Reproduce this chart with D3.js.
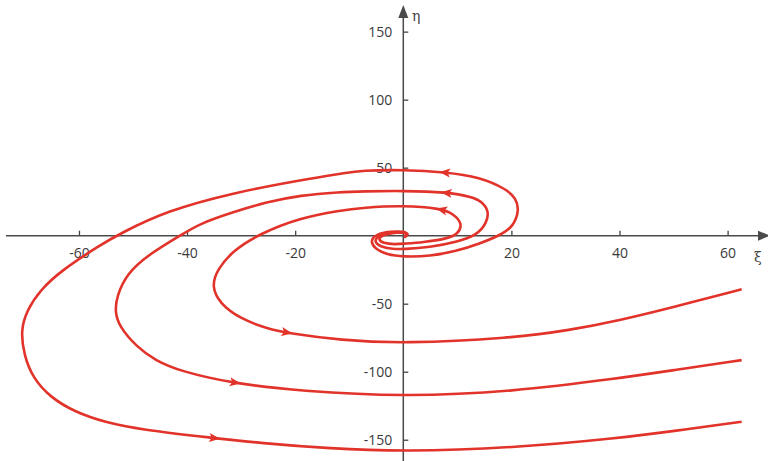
<!DOCTYPE html>
<html>
<head>
<meta charset="utf-8">
<script src="https://cdn.jsdelivr.net/npm/d3@7"></script>
<style>
  html, body { margin: 0; padding: 0; background: #fff; }
  svg { display: block; }
  .tick text { font-family: 'Open Sans', sans-serif; font-size: 14px; fill: #3a3a3a; }
  .tick line { stroke: #444; stroke-width: 1.3; }
  .lbl { font-family: 'DejaVu Serif', serif; font-size: 14px; fill: #444; }
</style>
</head>
<body>
<svg id="chart" width="768" height="461"></svg>
<script>
// ticks
const xTicks = [-60, -40, -20, 20, 40, 60];
const yTicks = [-150, -100, -50, 50, 100, 150];

// trajectories (xi, eta), ordered in direction of motion: from the origin outwards
const inner = [
  [0.31, -0.81], [1.05, 1.03], [0.13, 2.5], [-2.09, 2.13], [-3.94, 0.29], [-4.68, -2.64],
  [-3.76, -5.58], [-1.54, -6.4], [0, -5.9], [3.64, -4.85], [8.03, -2.28], [10.12, 1.03],
  [10.99, 8.88], [9.2, 16.2], [7.1, 19.9], [0, 22.3], [-7.46, 20.6], [-11.71, 18.6],
  [-19.11, 13.1], [-26.51, 1.5], [-31.45, -10.7], [-34.52, -25.4], [-35.45, -37.7], [-33.91, -49.9],
  [-30.21, -60.9], [-25.27, -68.2], [-20.98, -71.9], [-11.71, -76.8], [0, -79.4], [20.1, -75.3],
  [30.8, -69.5], [40.1, -62.2], [50.1, -52.4], [62.6, -39.4]
];
const middle = [
  [0.13, -0.81], [0.87, 1.4], [-0.24, 2.86], [-2.46, 2.5], [-4.68, -0.07], [-5.42, -4.1],
  [-4.31, -8.15], [-1.9, -9.8], [0, -10], [4.94, -8.5], [9.88, -4.6], [13.58, 0.3],
  [15.43, 9.1], [15.86, 18.6], [14.38, 25.3], [12.9, 28.4], [8.03, 32.1], [0, 33],
  [-7.46, 32.6], [-11.71, 32.1], [-19.11, 29.7], [-25.27, 24.7], [-31.45, 17.4], [-37.61, 8.9],
  [-40.7, 1.5], [-46.86, -13.1], [-51.17, -27.8], [-53.03, -45.0], [-53.34, -55.5], [-52.6, -66.5],
  [-49.33, -81.7], [-45.94, -91.5], [-41.32, -99.6], [-31.51, -108.6], [-19.11, -114.2], [0, -118.4],
  [20.1, -114.8], [40.1, -104.7], [50.1, -98.8], [62.6, -91.5]
];
const outer = [
  [0.13, -1.2], [1.05, 1.03], [0.13, 3.2], [-2.46, 3.2], [-5.05, 1.0], [-6.07, -3.4],
  [-5.42, -9.25], [-3.0, -14], [0, -15.5], [4.94, -15.1], [9.75, -11.5], [14.19, -5.8],
  [17.9, 0.3], [20.3, 6.4], [21.46, 18.6], [20.85, 27.5], [19.13, 34.1], [14.19, 43.1],
  [7.71, 46.8], [0, 48.5], [-7.46, 48.0], [-11.71, 45.6], [-19.11, 40.7], [-31.45, 31.6],
  [-43.77, 18.3], [-52.41, 1.5], [-56.11, -7.0], [-63.2, -25.4], [-67.21, -40.1], [-69.62, -54.8],
  [-70.79, -69.5], [-70.17, -87.8], [-68.51, -104.7], [-65.37, -118.6], [-60.74, -129.7], [-55.2, -137.2],
  [-48.71, -142.5], [-35.21, -148.7], [-26.52, -152.4], [-13.58, -156.5], [0, -158.7], [20.1, -156.1],
  [40.1, -148.7], [50.1, -143.6], [62.6, -136.8]
];
const trajectories = [inner, middle, outer];

// where the direction arrows sit, one list per trajectory
const arrowsAt = [
  [[7.1, 19.9], [-21.5, -71.7]],
  [[8.0, 32.1], [-31.1, -109.1]],
  [[7.7, 46.8], [-34.9, -148.3]]
];

const red = '#e2332b';
const svg = d3.select('#chart');

const x = d3.scaleLinear().domain([-73.5, 67.4]).range([6, 767.6]);
const y = d3.scaleLinear().domain([-166, 167]).range([461.5, 8.5]);

// axes (plain hyphen for negatives, as in the original)
const fmt = d => String(d);
const xAxis = d3.axisBottom(x).tickValues(xTicks).tickFormat(fmt)
  .tickSizeInner(-5).tickSizeOuter(0).tickPadding(12);
const yAxis = d3.axisLeft(y).tickValues(yTicks).tickFormat(fmt)
  .tickSizeInner(-5).tickSizeOuter(0).tickPadding(11);

svg.append('g').attr('transform', `translate(0,${y(0)})`).call(xAxis)
  .call(g => g.select('.domain').remove());
svg.append('g').attr('transform', `translate(${x(0)},0)`).call(yAxis)
  .call(g => g.select('.domain').remove());

const axisCol = '#4a4a4a';
svg.append('line')
  .attr('x1', 6).attr('x2', 760).attr('y1', y(0)).attr('y2', y(0))
  .attr('stroke', axisCol).attr('stroke-width', 1.5);
svg.append('line')
  .attr('x1', x(0)).attr('x2', x(0)).attr('y1', 461).attr('y2', 16)
  .attr('stroke', axisCol).attr('stroke-width', 1.5);
// axis arrowheads
svg.append('path')
  .attr('d', `M${770},${y(0)} L${758},${y(0) - 5} L${758},${y(0) + 5} Z`)
  .attr('fill', axisCol);
svg.append('path')
  .attr('d', `M${x(0)},${5} L${x(0) - 5},${18} L${x(0) + 5},${18} Z`)
  .attr('fill', axisCol);

svg.append('text').attr('class', 'lbl').attr('x', 754).attr('y', 262).text('ξ');
svg.append('text').attr('class', 'lbl').attr('x', 412).attr('y', 21).text('η');

// trajectories
const line = d3.line()
  .x(d => x(d[0]))
  .y(d => y(d[1]))
  .curve(d3.curveBasis);

const paths = svg.append('g').selectAll('path')
  .data(trajectories)
  .join('path')
  .attr('d', line)
  .attr('fill', 'none')
  .attr('stroke', red)
  .attr('stroke-width', 2.6)
  .attr('stroke-linejoin', 'round');

// arrows along each trajectory, oriented with the direction of motion
paths.each(function (d, i) {
  const node = this;
  const total = node.getTotalLength();
  arrowsAt[i].forEach(a => {
    const tx = x(a[0]), ty = y(a[1]);
    let best = 0, bestD = Infinity;
    for (let L = 0; L <= total; L += 1) {
      const p = node.getPointAtLength(L);
      const dd = (p.x - tx) ** 2 + (p.y - ty) ** 2;
      if (dd < bestD) { bestD = dd; best = L; }
    }
    const p0 = node.getPointAtLength(Math.max(0, best - 3));
    const p1 = node.getPointAtLength(Math.min(total, best + 3));
    const c = node.getPointAtLength(best);
    const ang = Math.atan2(p1.y - p0.y, p1.x - p0.x) * 180 / Math.PI;
    svg.append('path')
      .attr('d', 'M5.5,0 L-5.5,-4.5 L-3,0 L-5.5,4.5 Z')
      .attr('fill', red)
      .attr('transform', `translate(${c.x},${c.y}) rotate(${ang})`);
  });
});
</script>
</body>
</html>
